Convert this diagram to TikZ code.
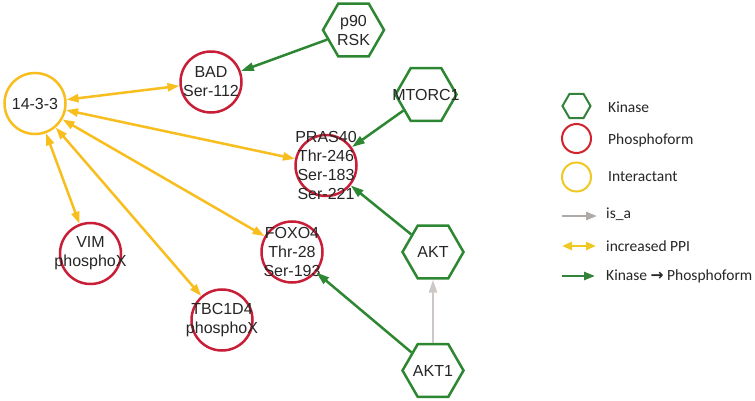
\documentclass[tikz,border=0pt]{standalone}
\usepackage{fontspec}
\newfontfamily\nodefont{Liberation Sans}
\newfontfamily\legendfont{Carlito}
\newfontfamily\symbolfont{DejaVu Sans}
\usetikzlibrary{shapes.geometric,arrows.meta}
\definecolor{kinasegreen}{RGB}{45,135,50}
\definecolor{phosphored}{RGB}{200,30,55}
\definecolor{interactyellow}{RGB}{248,190,30}
\definecolor{isagray}{RGB}{205,200,198}
\definecolor{legendgreen}{RGB}{50,130,60}
\definecolor{legendred}{RGB}{210,35,45}
\definecolor{legendyellow}{RGB}{240,200,35}
\begin{document}
\begin{tikzpicture}[x=1pt, y=-1pt,
    kinase/.style={regular polygon, regular polygon sides=6, minimum size=61pt, inner sep=0pt, draw=kinasegreen, line width=2.5pt},
    phospho/.style={circle, minimum size=61pt, inner sep=0pt, draw=phosphored, line width=2.5pt},
    interactant/.style={circle, minimum size=61pt, inner sep=0pt, draw=interactyellow, line width=2.5pt},
    every label/.style={font=\nodefont\fontsize{16}{19}\selectfont, align=center, inner sep=0pt, text=black!85},
    phos/.style={-{Triangle[length=13pt,width=8pt]}, draw=kinasegreen, line width=2.5pt},
    ppi/.style={{Triangle[length=12pt,width=8pt]}-{Triangle[length=12pt,width=8pt]}, draw=interactyellow, line width=2.5pt},
    isa/.style={-{Triangle[length=13pt,width=8pt]}, draw=isagray, line width=2.5pt},
    legendtext/.style={anchor=west, inner sep=0pt, font=\legendfont\fontsize{15.5}{18}\selectfont, text=black!85}]
    \useasboundingbox[fill=white] (0,0) rectangle (755,401);

    % interactant
    \node[interactant, label={center:14-3-3}] (ywhah) at (35,103.5) {};

    % phosphoforms
    \node[phospho, label={center:BAD\\Ser-112}] (bad) at (211,82) {};
    \node[phospho, label={center:PRAS40\\Thr-246\\Ser-183\\Ser-221}] (pras) at (326,165.5) {};
    \node[phospho, label={center:VIM\\phosphoX}] (vim) at (90.5,253.5) {};
    \node[phospho, label={center:FOXO4\\Thr-28\\Ser-193}] (foxo) at (292,252) {};
    \node[phospho, label={center:TBC1D4\\phosphoX}] (tbc) at (222,320) {};

    % kinases
    \node[kinase, label={center:p90\\RSK}] (rsk) at (353.5,30) {};
    \node[kinase, label={center:MTORC1}] (mtor) at (426,94.5) {};
    \node[kinase, label={center:AKT}] (akt) at (433,252) {};
    \node[kinase, label={center:AKT1}] (akt1) at (433,370.5) {};

    \draw[phos] (rsk) -- (bad);
    \draw[phos] (mtor) -- (pras);
    \draw[phos] (akt) -- (pras);
    \draw[phos] (akt1) -- (foxo);
    \draw[isa] (akt1) -- (akt);

    \draw[ppi] (ywhah) -- (bad);
    \draw[ppi] (ywhah) -- (pras);
    \draw[ppi] (ywhah) -- (foxo);
    \draw[ppi] (ywhah) -- (tbc);
    \draw[ppi] (ywhah) -- (vim);

    % legend
    \node[regular polygon, regular polygon sides=6, minimum size=28pt, inner sep=0pt, draw=legendgreen, line width=2pt] (lkinase) at (576.5,106) {};
    \node[circle, minimum size=29pt, inner sep=0pt, draw=legendred, line width=2pt] (lphospho) at (576.5,138.5) {};
    \node[circle, minimum size=29pt, inner sep=0pt, draw=legendyellow, line width=2pt] (linteract) at (576.5,177) {};
    \node[legendtext] (tkinase) at (608,107) {Kinase};
    \node[legendtext] (tphospho) at (608,140) {Phosphoform};
    \node[legendtext] (tinteract) at (608,177) {Interactant};

    \coordinate (isaa) at (562,216);
    \coordinate (isab) at (597,216);
    \coordinate (ppia) at (562,246);
    \coordinate (ppib) at (596,246);
    \coordinate (phosa) at (562,276);
    \coordinate (phosb) at (595,276);
    \draw[-{Triangle[length=11pt,width=8pt]}, draw=isagray!85!black, line width=2.5pt] (isaa) -- (isab);
    \draw[{Triangle[length=10pt,width=8pt]}-{Triangle[length=10pt,width=8pt]}, draw=legendyellow, line width=2.5pt] (ppia) -- (ppib);
    \draw[-{Triangle[length=11pt,width=8pt]}, draw=legendgreen, line width=2.5pt] (phosa) -- (phosb);
    \node[legendtext] (tisa) at (606,214) {is\_a};
    \node[legendtext] (tppi) at (606,246) {increased PPI};
    \node[legendtext] (tphos) at (606,276) {Kinase {\symbolfont\bfseries →} Phosphoform};
\end{tikzpicture}
\end{document}
